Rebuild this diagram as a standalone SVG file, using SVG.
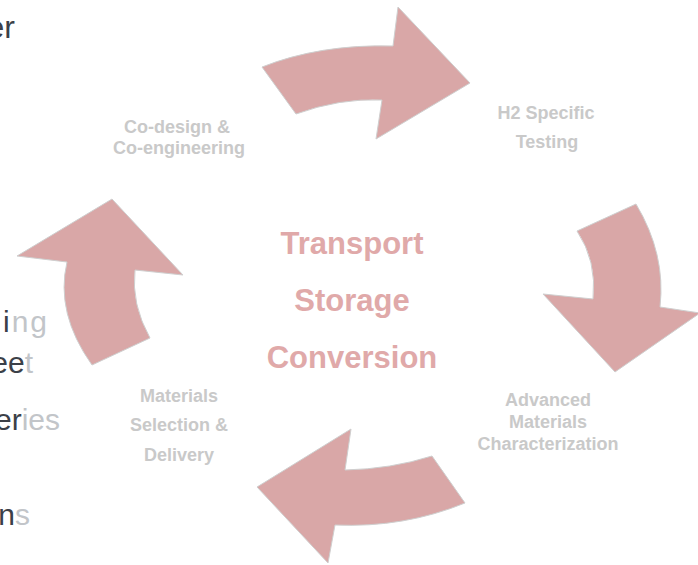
<svg xmlns="http://www.w3.org/2000/svg" width="698" height="565" viewBox="0 0 698 565">
<style>
.arrow{fill:#d9a7a7;stroke:#cfcfcf;stroke-width:1}
.lbl{font-family:"Liberation Sans",Arial,sans-serif;font-weight:bold;font-size:18px;fill:#c9c9c9;text-anchor:middle}
.ctr{font-family:"Liberation Sans",Arial,sans-serif;font-weight:bold;font-size:31px;fill:#e0a9a9;text-anchor:middle}
.side{font-family:"Liberation Sans",Arial,sans-serif;font-size:30px;text-anchor:end}
.dk{fill:#3b4048}
.lt{fill:#c2c5c9}
</style>
<rect width="698" height="565" fill="#ffffff"/>
<g id="side-text">
<text class="side" x="15" y="38" style="font-size:32px"><tspan class="dk">er</tspan></text>
<text class="side" x="49" y="332" letter-spacing="2"><tspan class="dk">i</tspan><tspan class="lt">ng</tspan></text>
<text class="side" x="33" y="373"><tspan class="dk">ee</tspan><tspan class="lt">t</tspan></text>
<text class="side" x="60" y="430"><tspan class="dk">er</tspan><tspan class="lt">ies</tspan></text>
<text class="side" x="30" y="525"><tspan class="dk">n</tspan><tspan class="lt">s</tspan></text>
</g>
<g id="connectors">
<path class="arrow" d="M262,67 Q320,44 393,46 L398,7 L470,83 L376,139 L382,100 Q340,98 296,114 Z"/>
<path class="arrow" d="M636,204 Q666,254 660,307 L700,313 L615,372 L543,294 L593,299 Q597,261 577,231 Z"/>
<path class="arrow" d="M432,456 Q391,469 345,470 L351,429 L257,487 L328,563 L335,525 Q404,528 465,503 Z"/>
<path class="arrow" d="M150,338 Q131,304 135,270 L183,275 L112,199 L17,256 L67,262 Q55,313 92,365 Z"/>
</g>
<g id="center">
<text class="ctr" x="352" y="254">Transport</text>
<text class="ctr" x="352" y="311">Storage</text>
<text class="ctr" x="352" y="368">Conversion</text>
</g>
<g id="codesign">
<text class="lbl" x="177" y="133">Co-design &amp;</text>
<text class="lbl" x="179" y="154">Co-engineering</text>
</g>
<g id="h2testing">
<text class="lbl" x="546" y="119">H2 Specific</text>
<text class="lbl" x="547" y="148">Testing</text>
</g>
<g id="characterization">
<text class="lbl" x="548" y="406">Advanced</text>
<text class="lbl" x="548" y="428">Materials</text>
<text class="lbl" x="548" y="450">Characterization</text>
</g>
<g id="materials">
<text class="lbl" x="179" y="402">Materials</text>
<text class="lbl" x="179" y="431">Selection &amp;</text>
<text class="lbl" x="179" y="461">Delivery</text>
</g>
</svg>
